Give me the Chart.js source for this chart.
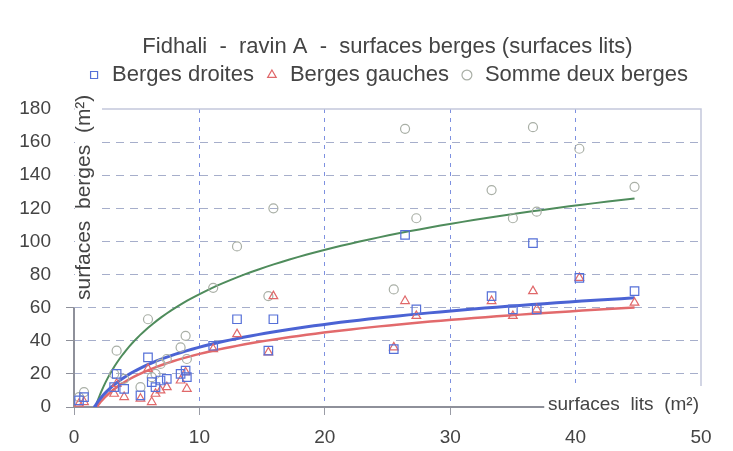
<!DOCTYPE html>
<html>
<head>
<meta charset="utf-8">
<script src="https://cdn.jsdelivr.net/npm/chart.js@4.4.0/dist/chart.umd.min.js"></script>
<style>
  html, body { margin: 0; padding: 0; background: #fff; }
</style>
</head>
<body>
<canvas id="chart" width="733" height="451"></canvas>
<script>
// values (m²)
const surfacesLits  = [0.4, 0.8, 3.2, 3.4, 4.0, 5.3, 5.9, 6.2, 6.5, 6.9, 7.4, 8.5, 8.9, 9.0, 11.1, 13.0, 15.5, 15.9, 25.5, 26.4, 27.3, 33.3, 35.0, 36.6, 36.9, 40.3, 44.7];
const bergesDroites = [4, 6, 12, 20, 11, 7, 30, 15, 12, 16, 17, 20, 22, 18, 37, 53, 34, 53, 35, 104, 59, 67, 59, 99, 59, 78, 70];
const bergesGauches = [2, 3, 8, 14, 6, 5, 23, 3, 8, 10, 12, 16, 21, 11, 35, 44, 33, 67, 36, 64, 55, 64, 55, 70, 59, 78, 63];
const sommeBerges   = [6, 9, 20, 34, 17, 12, 53, 18, 20, 26, 29, 36, 43, 29, 72, 97, 67, 120, 71, 168, 114, 131, 114, 169, 118, 156, 133];

// logarithmic trend lines y = a*ln(x) + b, as shown on the chart
const trendDroites = [19.9, -9.7];
const trendGauches = [18.7, -11.0];
const trendSomme   = [38.6, -20.7];

const xTicks = [0, 10, 20, 30, 40, 50];
const yTicks = [0, 20, 40, 60, 80, 100, 120, 140, 160, 180];

const FONT = '"Liberation Sans", Arial, sans-serif';

function points(ys) {
    return surfacesLits.map((x, i) => ({x: x, y: ys[i]}));
}

function trendPoints(coef) {
    const xStart = Math.exp(-coef[1] / coef[0]);
    const xEnd = Math.max(...surfacesLits);
    const pts = [];
    for (let i = 0; i <= 80; i++) {
        const x = xStart + (xEnd - xStart) * Math.pow(i / 80, 2);
        pts.push({x: x, y: coef[0] * Math.log(x) + coef[1]});
    }
    return pts;
}

// axis lines, frame and axis titles like the original
const axisDecor = {
    id: 'axisDecor',
    beforeInit(chart) {
        const fit = chart.legend.fit;
        chart.legend.fit = function() {
            fit.call(this);
            this.height += 13;
        };
    },
    beforeDatasetsDraw(chart) {
        const {ctx, scales: {x, y}} = chart;
        const x0 = x.getPixelForValue(0), x50 = x.getPixelForValue(50);
        const y0 = y.getPixelForValue(0), y60 = y.getPixelForValue(60), y180 = y.getPixelForValue(180);
        ctx.save();
        ctx.strokeStyle = '#c4c8dc';
        ctx.lineWidth = 1.5;
        ctx.beginPath();
        ctx.moveTo(x0, y180);
        ctx.lineTo(x50, y180);
        ctx.lineTo(x50, y0);
        ctx.stroke();

        ctx.strokeStyle = '#8e909a';
        ctx.lineWidth = 2;
        ctx.beginPath();
        ctx.moveTo(x0, y60);
        ctx.lineTo(x0, y0);
        ctx.lineTo(x50, y0);
        ctx.stroke();

        // white boxes behind the axis titles
        ctx.fillStyle = '#fff';
        ctx.fillRect(x0 + 1, y180 - 16, 27, (y60 - 6) - (y180 - 16));
        ctx.fillRect(x.getPixelForValue(37.5), y0 - 21, 60 + 12.5 * 13, 38);

        ctx.fillStyle = '#444';
        ctx.font = '19px ' + FONT;
        ctx.textBaseline = 'middle';
        ctx.textAlign = 'left';
        ctx.fillText('surfaces  lits  (m²)', x.getPixelForValue(37.8), y0 - 2);

        ctx.translate(x0 + 10, (y180 - 14 + y60 - 8) / 2);
        ctx.rotate(-Math.PI / 2);
        ctx.textAlign = 'center';
        ctx.font = '21px ' + FONT;
        ctx.fillText('surfaces  berges  (m²)', 0, 0);
        ctx.restore();
    }
};

const ctx = document.getElementById('chart');
new Chart(ctx, {
    type: 'scatter',
    data: {
        datasets: [
            {
                label: 'Berges droites',
                data: points(bergesDroites),
                pointStyle: 'rect',
                pointRadius: 6,
                pointBorderWidth: 1.2,
                pointBorderColor: '#5670d8',
                pointBackgroundColor: 'rgba(0,0,0,0)',
                borderColor: '#5670d8'
            },
            {
                label: 'Berges gauches',
                data: points(bergesGauches),
                pointStyle: 'triangle',
                pointRadius: 5,
                pointBorderWidth: 1.2,
                pointBorderColor: '#e0686a',
                pointBackgroundColor: 'rgba(0,0,0,0)',
                borderColor: '#e0686a'
            },
            {
                label: 'Somme deux berges',
                data: points(sommeBerges),
                pointStyle: 'circle',
                pointRadius: 4.5,
                pointBorderWidth: 1.2,
                pointBorderColor: '#a9afa6',
                pointBackgroundColor: 'rgba(0,0,0,0)',
                borderColor: '#a9afa6'
            },
            {
                label: 'trend droites',
                data: trendPoints(trendDroites),
                showLine: true,
                pointRadius: 0,
                borderColor: '#4b63d4',
                borderWidth: 3
            },
            {
                label: 'trend gauches',
                data: trendPoints(trendGauches),
                showLine: true,
                pointRadius: 0,
                borderColor: '#e26a6c',
                borderWidth: 2.5
            },
            {
                label: 'trend somme',
                data: trendPoints(trendSomme),
                showLine: true,
                pointRadius: 0,
                borderColor: '#4f8c5c',
                borderWidth: 2
            }
        ]
    },
    options: {
        responsive: false,
        animation: false,
        layout: {
            padding: {left: 0, right: 32, top: 0, bottom: 0}
        },
        plugins: {
            tooltip: {enabled: false},
            title: {
                display: true,
                fullSize: false,
                text: 'Fidhali  -  ravin A  -  surfaces berges (surfaces lits)',
                color: '#444',
                font: {family: FONT, size: 22, weight: 'normal', lineHeight: '12px'},
                padding: {top: 41, bottom: 0}
            },
            legend: {
                position: 'top',
                fullSize: false,
                labels: {
                    usePointStyle: true,
                    boxWidth: 14,
                    boxHeight: 7,
                    padding: 11,
                    color: '#444',
                    font: {family: FONT, size: 22},
                    filter: item => item.datasetIndex < 3
                }
            }
        },
        scales: {
            x: {
                type: 'linear',
                min: 0,
                max: 50,
                afterBuildTicks: scale => { scale.ticks = xTicks.map(v => ({value: v})); },
                afterFit: scale => { scale.height = 44; },
                border: {display: false, dash: [4, 5]},
                grid: {
                    color: c => (c.tick && (c.tick.value === 0 || c.tick.value === 50)) ? 'rgba(0,0,0,0)' : '#7d90e0',
                    lineWidth: 1,
                    tickColor: c => (c.tick && c.tick.value === 50) ? 'rgba(0,0,0,0)' : '#9a9ca6',
                    tickLength: 8,
                    tickBorderDash: []
                },
                ticks: {
                    color: '#444',
                    padding: 11,
                    font: {family: FONT, size: 19}
                }
            },
            y: {
                type: 'linear',
                min: 0,
                max: 180,
                afterBuildTicks: scale => { scale.ticks = yTicks.map(v => ({value: v})); },
                afterFit: scale => { scale.width = 74; },
                border: {display: false, dash: [8, 6]},
                grid: {
                    color: c => (c.tick && (c.tick.value === 0 || c.tick.value === 180)) ? 'rgba(0,0,0,0)' : '#a6aecb',
                    lineWidth: 1,
                    tickColor: c => (c.tick && c.tick.value <= 60) ? '#8e909a' : 'rgba(0,0,0,0)',
                    tickLength: 8,
                    tickBorderDash: []
                },
                ticks: {
                    color: '#444',
                    padding: 15,
                    font: {family: FONT, size: 19}
                }
            }
        }
    },
    plugins: [axisDecor]
});
</script>
</body>
</html>
